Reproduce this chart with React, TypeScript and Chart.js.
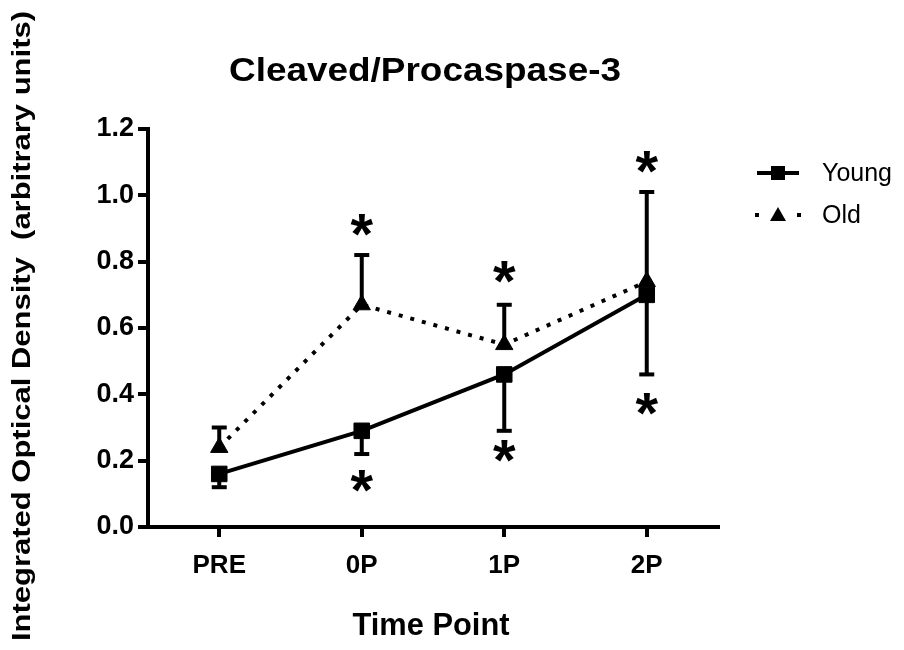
import React, { useEffect, useRef } from "react";
import { Chart, registerables } from "chart.js";

Chart.register(...registerables);

const categories = ["PRE", "0P", "1P", "2P"];
const youngMean = [0.16, 0.29, 0.46, 0.7];
const youngLower = [0.12, 0.22, 0.29, 0.46];
const oldMean = [0.24, 0.67, 0.55, 0.74];
const oldUpper = [0.3, 0.82, 0.67, 1.01];
const oldStars = [null, 0.91, 0.77, 1.1];
const youngStars = [null, 0.14, 0.23, 0.37];
const seriesNames = ["Young", "Old"];
const chartTitle = "Cleaved/Procaspase-3";
const xTitle = "Time Point";
const yTitle = "Integrated Optical Density  (arbitrary units)";

const FONT = "'Liberation Sans', Arial, Helvetica, sans-serif";

function drawFitted(ctx: CanvasRenderingContext2D, text: string, cx: number, baseY: number, font: string, targetW: number | null) {
  ctx.save();
  ctx.font = font;
  ctx.textAlign = "center";
  ctx.textBaseline = "alphabetic";
  const w = ctx.measureText(text).width;
  const s = targetW ? targetW / w : 1;
  ctx.translate(cx, baseY);
  ctx.scale(s, 1);
  ctx.fillText(text, 0, 0);
  ctx.restore();
}

const overlay = {
  id: "overlay",
  afterDatasetsDraw(chart: any) {
    const { ctx } = chart;
    const x = chart.scales.x;
    const y = chart.scales.y;
    ctx.save();
    ctx.strokeStyle = "#000";
    ctx.fillStyle = "#000";
    ctx.lineWidth = 4;
    ctx.setLineDash([]);
    const cap = 7.5;
    const bar = (px: number, from: number, to: number) => {
      const a = y.getPixelForValue(from);
      const b = y.getPixelForValue(to);
      ctx.beginPath();
      ctx.moveTo(px, a);
      ctx.lineTo(px, b);
      ctx.stroke();
      ctx.beginPath();
      ctx.moveTo(px - cap, b);
      ctx.lineTo(px + cap, b);
      ctx.stroke();
    };
    categories.forEach((_, i) => {
      const px = x.getPixelForValue(i);
      bar(px, youngMean[i], youngLower[i]);
      bar(px, oldMean[i], oldUpper[i]);
    });
    // asterisks
    ctx.font = `bold 58px ${FONT}`;
    ctx.textAlign = "center";
    ctx.textBaseline = "alphabetic";
    const m = ctx.measureText("*");
    const off = (m.actualBoundingBoxAscent - m.actualBoundingBoxDescent) / 2;
    const star = (i: number, v: number | null) => {
      if (v == null) return;
      ctx.fillText("*", x.getPixelForValue(i), y.getPixelForValue(v) + off);
    };
    categories.forEach((_, i) => {
      star(i, oldStars[i]);
      star(i, youngStars[i]);
    });
    ctx.restore();
  },
  afterDraw(chart: any) {
    const { ctx } = chart;
    ctx.save();
    ctx.fillStyle = "#000";
    ctx.strokeStyle = "#000";
    // main title
    drawFitted(ctx, chartTitle, 425, 81, `bold 33px ${FONT}`, 392);
    // x title
    drawFitted(ctx, xTitle, 431, 635, `bold 31px ${FONT}`, 157);
    // y title (rotated)
    ctx.save();
    ctx.translate(30, 326);
    ctx.rotate(-Math.PI / 2);
    ctx.font = `bold 25px ${FONT}`;
    ctx.textAlign = "center";
    ctx.textBaseline = "alphabetic";
    const w = ctx.measureText(yTitle).width;
    ctx.scale(630 / w, 1);
    ctx.fillText(yTitle, 0, 0);
    ctx.restore();

    // legend
    const lx1 = 757, lx2 = 799, lcx = 778;
    const yY = 173, yO = 215;
    ctx.lineWidth = 4;
    ctx.beginPath();
    ctx.moveTo(lx1, yY);
    ctx.lineTo(lx2, yY);
    ctx.stroke();
    ctx.fillRect(lcx - 7, yY - 7, 14, 14);
    ctx.fillRect(lx1 - 2, yO - 2, 4, 4);
    ctx.fillRect(lx2 - 2, yO - 2, 4, 4);
    ctx.beginPath();
    ctx.moveTo(lcx, yO - 8);
    ctx.lineTo(lcx + 8, yO + 6);
    ctx.lineTo(lcx - 8, yO + 6);
    ctx.closePath();
    ctx.fill();
    ctx.font = `25px ${FONT}`;
    ctx.textAlign = "left";
    ctx.textBaseline = "middle";
    ctx.fillText(seriesNames[0], 822, yY + 1);
    ctx.fillText(seriesNames[1], 822, yO + 1);
    ctx.restore();
  },
};

export default function App() {
  const ref = useRef<HTMLCanvasElement>(null);
  useEffect(() => {
    const chart = new Chart(ref.current as HTMLCanvasElement, {
      type: "line",
      data: {
        labels: categories,
        datasets: [
          {
            label: seriesNames[0],
            data: youngMean,
            borderColor: "#000",
            backgroundColor: "#000",
            borderWidth: 4,
            pointStyle: "rect",
            pointRadius: 11,
            pointBorderWidth: 1,
            pointBackgroundColor: "#000",
            pointBorderColor: "#000",
            tension: 0,
          },
          {
            label: seriesNames[1],
            data: oldMean,
            borderColor: "#000",
            backgroundColor: "#000",
            borderWidth: 4,
            borderDash: [4, 8],
            pointStyle: "triangle",
            pointRadius: 10,
            pointBorderWidth: 1,
            pointBackgroundColor: "#000",
            pointBorderColor: "#000",
            tension: 0,
          },
        ],
      },
      options: {
        animation: false,
        responsive: false,
        layout: { padding: { top: 129, right: 186, left: 0, bottom: 0 } },
        plugins: {
          legend: { display: false },
          title: { display: false },
          tooltip: { enabled: false },
        },
        scales: {
          x: {
            type: "category",
            offset: true,
            grid: {
              offset: false,
              drawOnChartArea: false,
              drawTicks: true,
              tickLength: 10,
              lineWidth: 4,
              color: "#000",
            },
            border: { color: "#000", width: 4 },
            ticks: {
              color: "#000",
              font: { family: FONT, size: 26, weight: "bold" },
              padding: 13,
              maxRotation: 0,
              autoSkip: false,
            },
            afterFit: (s: any) => {
              s.height = 123;
            },
          },
          y: {
            min: 0,
            max: 1.2,
            ticks: {
              stepSize: 0.2,
              callback: (v: any) => Number(v).toFixed(1),
              color: "#000",
              font: { family: FONT, size: 27, weight: "bold" },
              padding: 4,
            },
            grid: {
              drawOnChartArea: false,
              tickLength: 10,
              lineWidth: 4,
              color: "#000",
            },
            border: { color: "#000", width: 4 },
            afterFit: (s: any) => {
              s.width = 148;
            },
          },
        },
      } as any,
      plugins: [overlay],
    });
    return () => chart.destroy();
  }, []);
  return (
    <div style={{ position: "fixed", left: 0, top: 0, width: 904, height: 650, background: "#fff" }}>
      <canvas ref={ref} width={904} height={650} style={{ display: "block", width: 904, height: 650 }} />
    </div>
  );
}
